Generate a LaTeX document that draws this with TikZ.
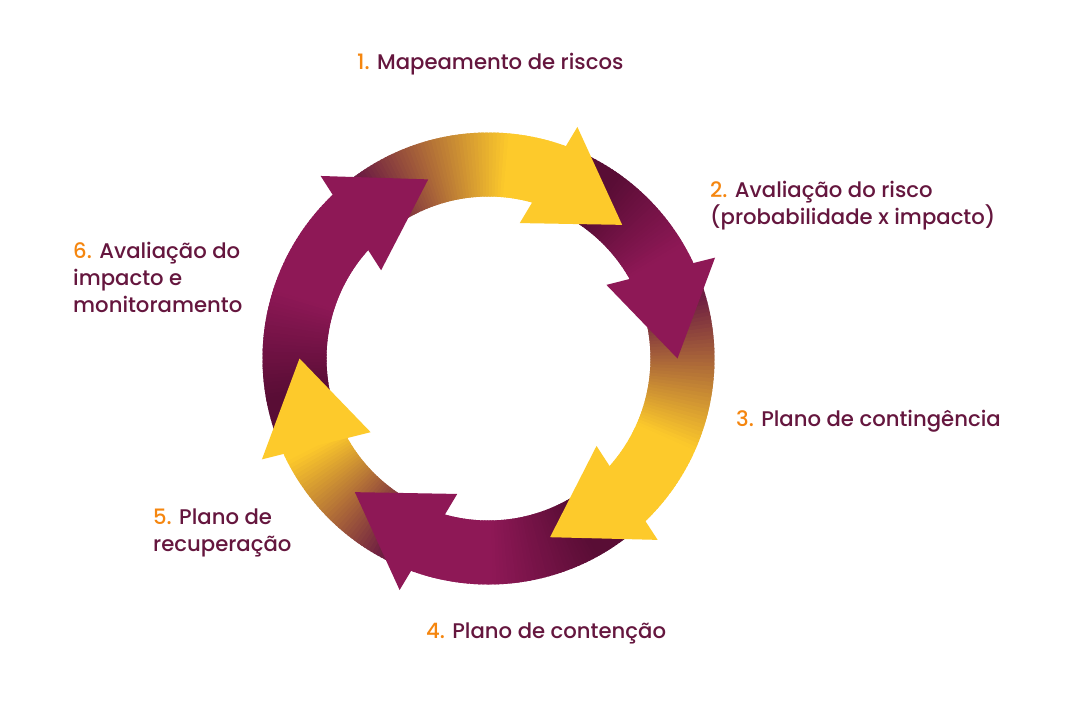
\documentclass[tikz,border=0pt]{standalone}
\usepackage{fontspec}
\setmainfont{Poppins}[UprightFont=* Medium]
\definecolor{pur}{HTML}{8E1856}
\definecolor{purD}{HTML}{590D35}
\definecolor{yel}{HTML}{FDCA2B}
\definecolor{yelT}{HTML}{6E1E42}
\definecolor{txt}{HTML}{65163E}
\definecolor{num}{HTML}{F5860F}
\newcommand\ringbody[6]{% tail angle, head angle, main colour, tail colour, ramp start, ramp length
  \pgfmathsetmacro\bspan{#1-(#2)}
  \pgfmathtruncatemacro\nsteps{ceil(\bspan)}
  \pgfmathsetmacro\dstep{\bspan/\nsteps}
  \foreach \k in {1,...,\nsteps}{
    \pgfmathsetmacro\aA{#1-(\k-1)*\dstep}
    \pgfmathsetmacro\aB{max(#2,#1-\k*\dstep-0.7)}
    \pgfmathsetmacro\pp{min(100,max(0,100*((\k-0.5)*\dstep-#5)/#6))}
    \fill[#3!\pp!#4] (\aA:226pt) arc[start angle=\aA,end angle=\aB,radius=226pt]
      -- (\aB:162pt) arc[start angle=\aB,end angle=\aA,radius=162pt] -- cycle;
  }}
\newcommand\ringhead[2]{%
  \fill[#2] (#1:189pt) -- ({#1+24}:248pt) -- ({#1+32}:139pt) -- cycle;}
\tikzset{lbl/.style={anchor=base west,inner sep=0pt,text=txt,align=left,
  font=\fontsize{21.2}{27}\selectfont}}
\begin{document}
\begin{tikzpicture}
\useasboundingbox[fill=white] (0pt,0pt) rectangle (1080pt,-721pt);
\begin{scope}[shift={(488.5pt,-358.5pt)}]
  % bodies
  \ringbody{128.6}{69}{yel}{yelT}{4}{40}
  \ringbody{65}{24}{pur}{purD}{10}{25}
  \ringbody{20}{-47}{yel}{yelT}{4}{40}
  \ringbody{-51}{-111}{pur}{purD}{10}{28}
  \ringbody{-115}{-156}{yel}{yelT}{4}{34}
  \ringbody{-160}{-227.4}{pur}{purD}{10}{28}
  % heads
  \ringhead{45}{yel}
  \ringhead{0}{pur}
  \ringhead{-71}{yel}
  \ringhead{-135}{pur}
  \ringhead{-180}{yel}
  \ringhead{-251.4}{pur}
\end{scope}
\node[lbl] (l1) at (357pt,-69pt) {\textcolor{num}{1.} Mapeamento de riscos};
\node[lbl] (l2) at (710pt,-224pt) {\textcolor{num}{2.} Avaliação do risco\\(probabilidade x impacto)};
\node[lbl] (l3) at (736pt,-426pt) {\textcolor{num}{3.} Plano de contingência};
\node[lbl] (l4) at (426pt,-638pt) {\textcolor{num}{4.} Plano de contenção};
\node[lbl] (l5) at (153pt,-551pt) {\textcolor{num}{5.} Plano de\\recuperação};
\node[lbl] (l6) at (73pt,-312pt) {\textcolor{num}{6.} Avaliação do\\impacto e\\monitoramento};
\end{tikzpicture}
\end{document}
